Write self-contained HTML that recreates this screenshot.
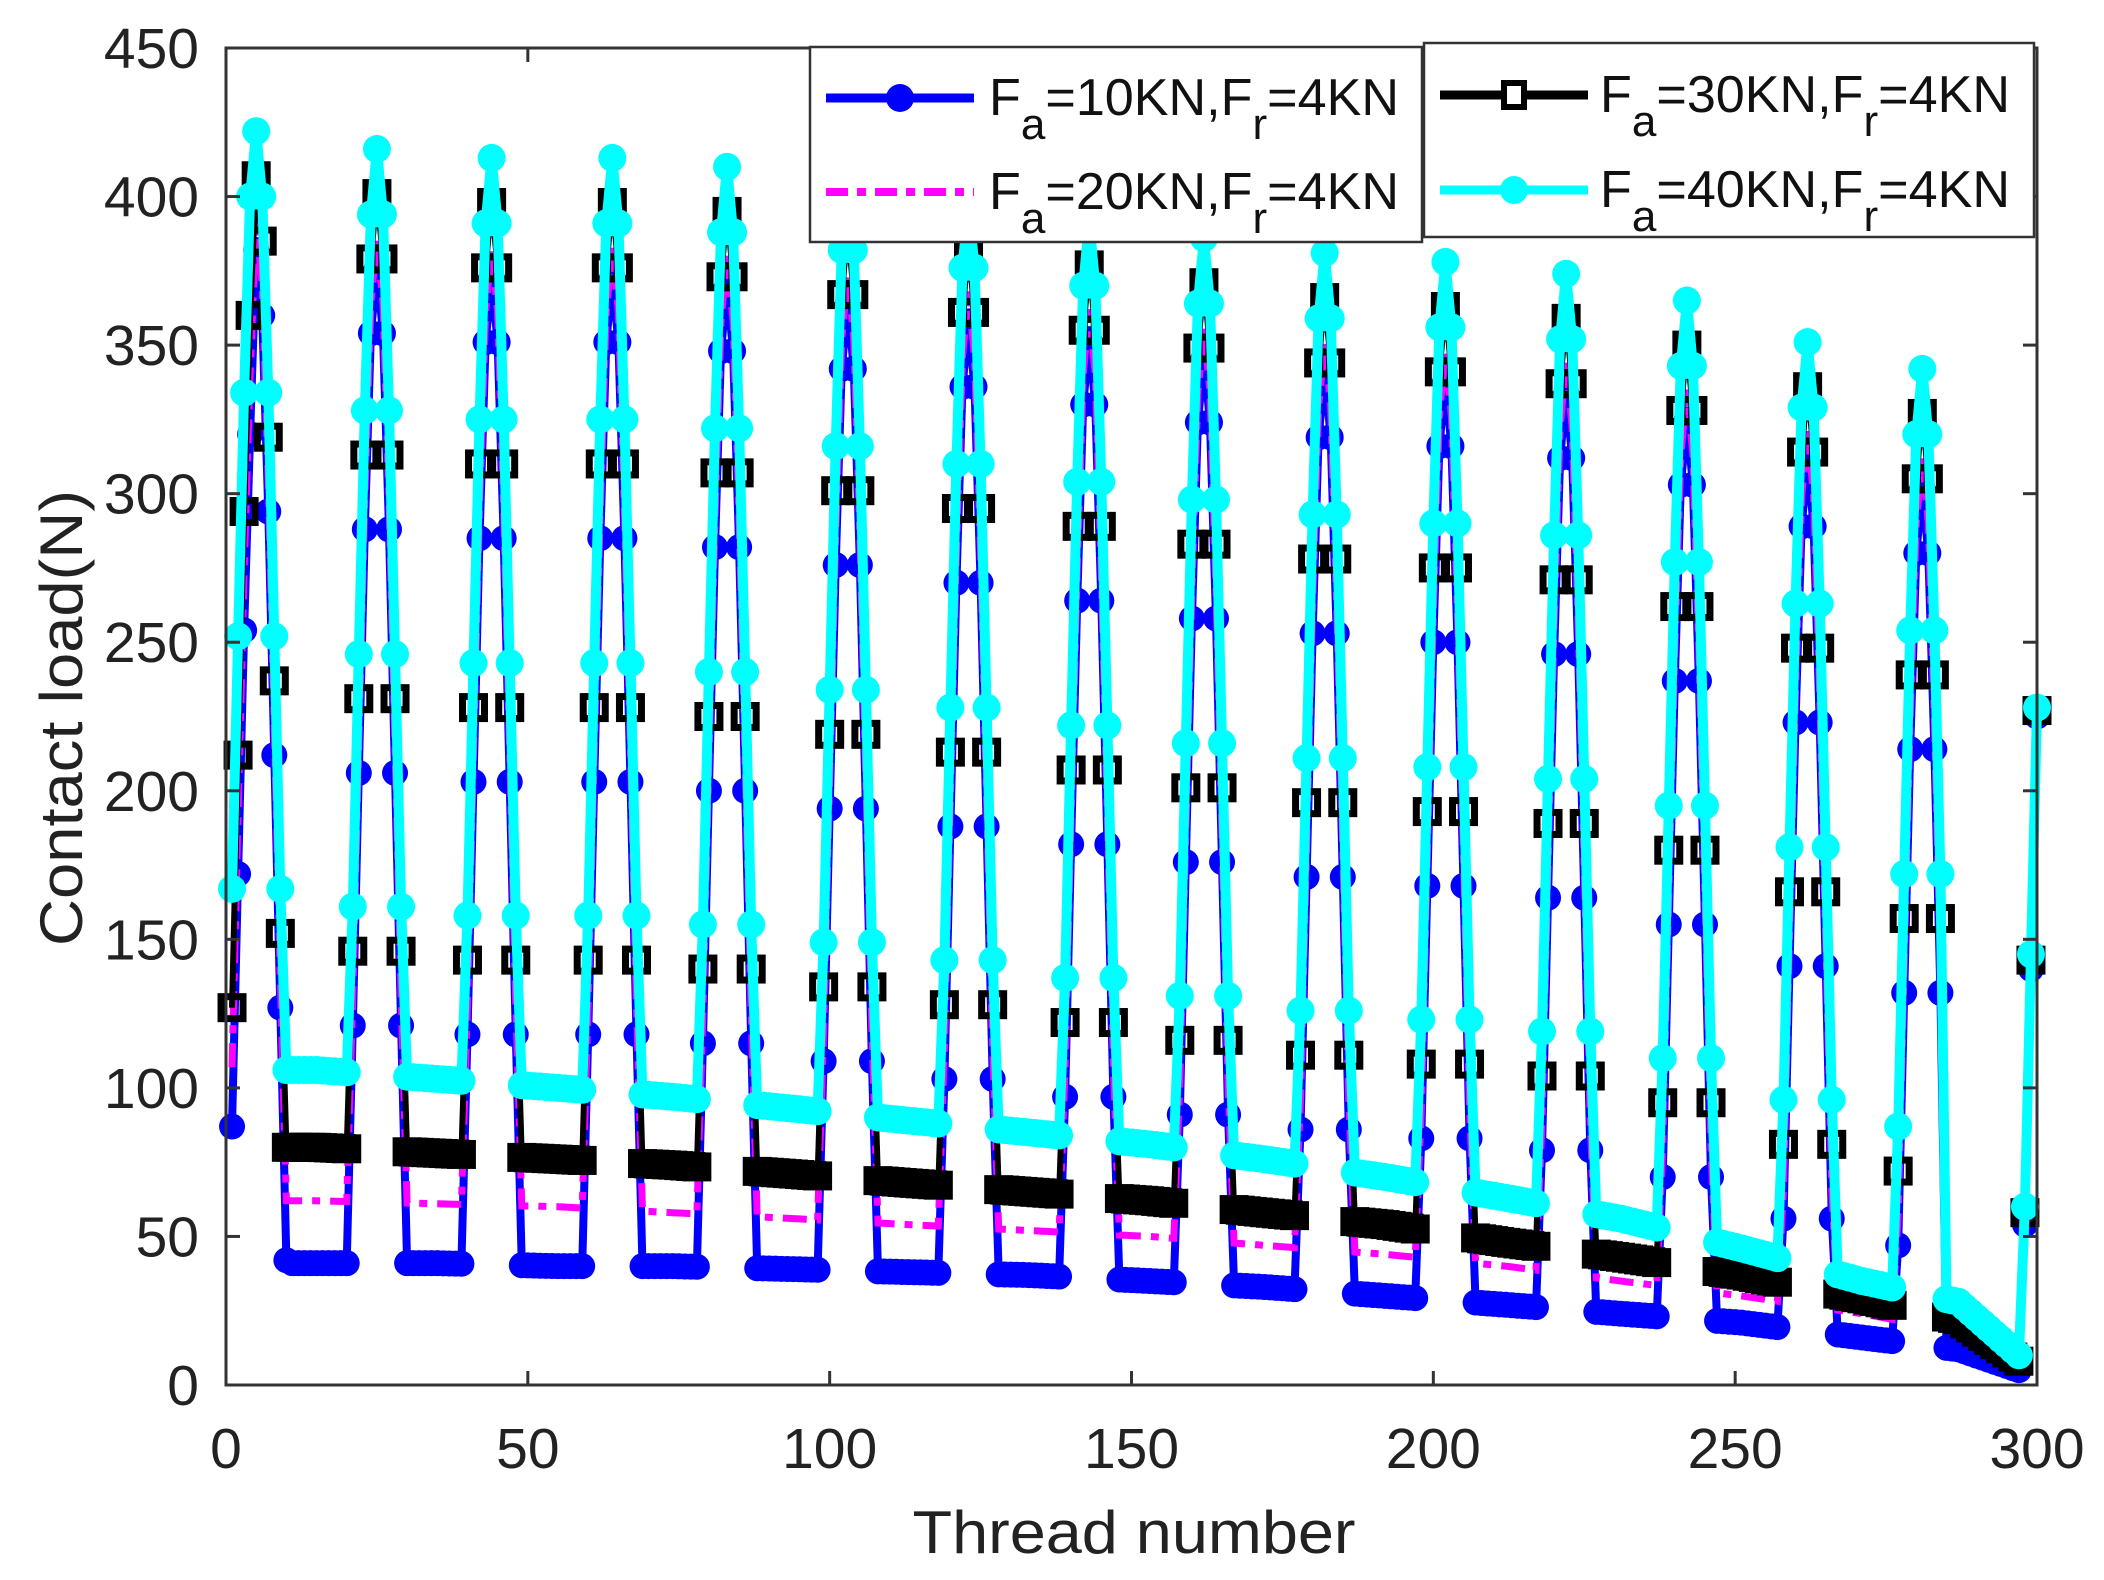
<!DOCTYPE html>
<html><head><meta charset="utf-8"><style>
html,body{margin:0;padding:0;background:#fff;}
svg{display:block;font-family:"Liberation Sans",Arial,sans-serif;}
</style></head><body>
<svg id="s" width="2104" height="1580" viewBox="0 0 2104 1580" xmlns="http://www.w3.org/2000/svg">
<rect width="2104" height="1580" fill="#fff"/>
<g id="data"></g>
<g id="axes" stroke="#333" stroke-width="3" fill="none">
<rect x="226" y="48" width="1811" height="1337"/>
</g>
<g id="ticks" stroke="#333" stroke-width="3"></g>
<g id="labels" fill="#222" font-size="57"></g>
<text x="1134" y="1553" font-size="60" fill="#222" text-anchor="middle" textLength="443" lengthAdjust="spacingAndGlyphs">Thread number</text>
<text transform="translate(82,718) rotate(-90)" font-size="60" fill="#222" text-anchor="middle" textLength="456" lengthAdjust="spacingAndGlyphs">Contact load(N)</text>
<g id="legend"></g>
</svg>
<script>
const NS="http://www.w3.org/2000/svg";
const X0=226,X1=2037,Y0=1385,Y1=48;
const sx=v=>X0+(X1-X0)*v/300, sy=v=>Y0-(Y0-Y1)*v/450;
function el(p,t,a,txt){const e=document.createElementNS(NS,t);for(const k in a)e.setAttribute(k,a[k]);if(txt!==undefined)e.textContent=txt;p.appendChild(e);return e;}
const ticks=document.getElementById('ticks'),labels=document.getElementById('labels');
for(let v=0;v<=300;v+=50){const x=sx(v);
 el(ticks,'line',{x1:x,y1:Y0,x2:x,y2:Y0-14});el(ticks,'line',{x1:x,y1:Y1,x2:x,y2:Y1+14});
 el(labels,'text',{x:x,y:1468,'text-anchor':'middle'},String(v));}
for(let v=0;v<=450;v+=50){const y=sy(v);
 el(ticks,'line',{x1:X0,y1:y,x2:X0+14,y2:y});el(ticks,'line',{x1:X1,y1:y,x2:X1-14,y2:y});
 el(labels,'text',{x:199,y:y+20,'text-anchor':'end'},String(v));}
function interp(tab,x){if(x<=tab[0][0])return tab[0][1];for(let i=1;i<tab.length;i++){if(x<=tab[i][0]){const a=tab[i-1],b=tab[i];return a[1]+(b[1]-a[1])*(x-a[0])/(b[0]-a[0]);}}return tab[tab.length-1][1];}
const lx=[15,35,55,74,94,113,133,153,172,192,212,231,251,271,287,297];
const mk=a=>lx.map((x,i)=>[x,a[i]]);
const lows={
 c:mk([106,103,100,97,93,89,85,81,76,70,63,56,46,35,28,10]),
 k:mk([80,78,76,74,71,68,65,62,58,54,48,43,37,29,22,8]),
 m:mk([62,61,60,58,56,54,52,50,47,44,40,35,30,24,18,6]),
 b:mk([41,41,40,40,39,38,37,35,33,30,27,24,21,16,12,5])};
const centers=[5,25,44,64,83,103,123,143,162,182,202,222,242,262,281];
const cpk=[422,416,413,413,410,404,398,392,386,381,378,374,365,351,342];
const off={c:0,k:15,m:30,b:40};
const drop=[[0,0],[1,22],[2,88],[3,170],[4,255],[5,340],[6,425],[20,2000]];
function val(s,i){
 if(i>=298){const e={c:[60,145,228],k:[58,143,227],m:[56,141,226],b:[54,140,225]}[s];return e[i-298];}
 let best=1e9,k=0;centers.forEach((c,j)=>{const d=Math.abs(i-c);if(d<best){best=d;k=j;}});
 const low=interp(lows[s],i);
 if(i>284 && best>=4) return low;
 let v=cpk[k]-off[s]-interp(drop,best);
 if(i<5 && s!=='c'){v-= (s==='b'?40:s==='k'?25:30);}
 return Math.max(low,v);}
const series={b:[],m:[],k:[],c:[]};
for(let i=1;i<=300;i++)for(const s in series)series[s].push([sx(i),sy(val(s,i))]);
const data=document.getElementById('data');
const pts=a=>a.map(p=>p[0].toFixed(1)+','+p[1].toFixed(1)).join(' ');
el(data,'polyline',{points:pts(series.b),fill:'none',stroke:'#0000ff','stroke-width':8,'stroke-linejoin':'round'});
series.b.forEach(p=>el(data,'circle',{cx:p[0],cy:p[1],r:13,fill:'#0000ff'}));
el(data,'polyline',{points:pts(series.m),fill:'none',stroke:'#ff00ff','stroke-width':7,'stroke-dasharray':'24 10 8 10'});
el(data,'polyline',{points:pts(series.k),fill:'none',stroke:'#000','stroke-width':6,'stroke-linejoin':'round'});
series.k.forEach(p=>el(data,'rect',{x:p[0]-11,y:p[1]-11,width:22,height:22,fill:'none',stroke:'#000','stroke-width':7}));
el(data,'polyline',{points:pts(series.c),fill:'none',stroke:'#00ffff','stroke-width':10,'stroke-linejoin':'round'});
series.c.forEach(p=>el(data,'circle',{cx:p[0],cy:p[1],r:14,fill:'#00ffff'}));
const lg=document.getElementById('legend');
function box(x,y,w,h){el(lg,'rect',{x:x,y:y,width:w,height:h,fill:'#fff',stroke:'#333','stroke-width':2.5});}
box(810,47,612,195);box(1424,43,610,194);
function entry(lx,ly,tx,num,type){
 const col={b:'#0000ff',m:'#ff00ff',k:'#000',c:'#00ffff'}[type];
 if(type==='m')el(lg,'line',{x1:lx,y1:ly,x2:lx+148,y2:ly,stroke:col,'stroke-width':8,'stroke-dasharray':'22 9 9 9'});
 else el(lg,'line',{x1:lx,y1:ly,x2:lx+148,y2:ly,stroke:col,'stroke-width':type==='k'?9:9});
 if(type==='b'||type==='c')el(lg,'circle',{cx:lx+74,cy:ly,r:14,fill:col});
 if(type==='k')el(lg,'rect',{x:lx+64,y:ly-12,width:20,height:24,fill:'#fff',stroke:'#000','stroke-width':6});
 const t=el(lg,'text',{x:tx,y:ly+17,'font-size':52,fill:'#111',textLength:410,lengthAdjust:'spacingAndGlyphs'});
 const parts=[['F',0],['a',24],['=',-24],[num+'KN,F',0],['r',24],['=4KN',-24]];
 parts.forEach(p=>{const ts=el(t,'tspan',{dy:p[1]},p[0]);if(p[1]>0)ts.setAttribute('font-size',44);});
}
entry(826,98,989,'10','b');entry(826,192,989,'20','m');
entry(1440,95,1600,'30','k');entry(1440,190,1600,'40','c');
</script>
</body></html>
